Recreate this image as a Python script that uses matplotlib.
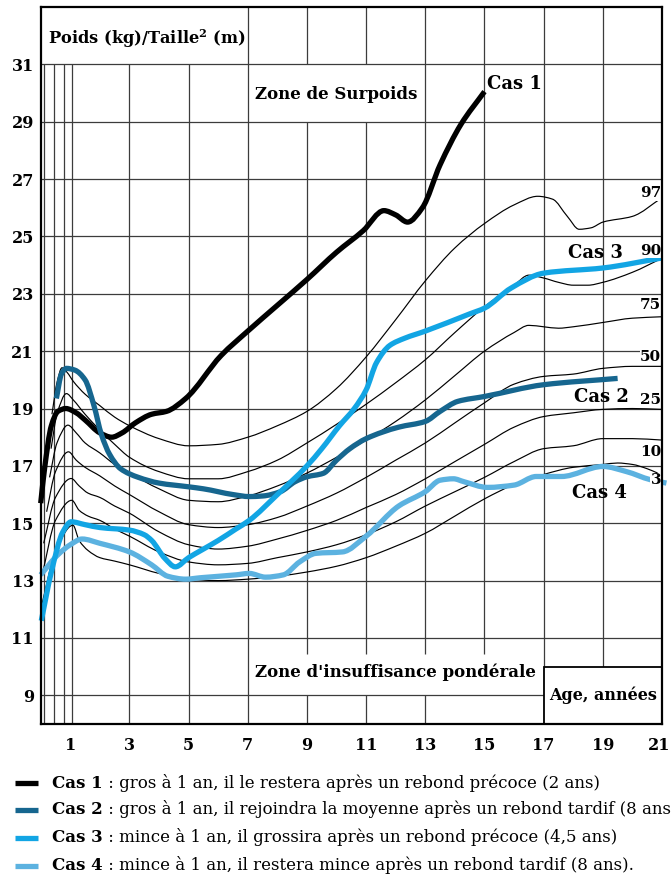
import matplotlib
matplotlib.use("Agg")
import matplotlib.pyplot as plt
import matplotlib.transforms as mtransforms
from matplotlib.lines import Line2D
from matplotlib.patches import Rectangle, PathPatch
from matplotlib.path import Path

plt.rcParams['font.family'] = ['DejaVu Serif']
plt.rcParams['mathtext.fontset'] = 'dejavuserif'

# ---------------- data ----------------
x_ticks = [1, 3, 5, 7, 9, 11, 13, 15, 17, 19, 21]
y_ticks = [9, 11, 13, 15, 17, 19, 21, 23, 25, 27, 29, 31]

p97_age = [0.38, 0.55, 0.72, 0.9, 1.1, 1.5, 2, 2.5, 3, 4, 5, 6, 7, 8, 9, 10, 11, 12, 13, 14, 15, 16, 16.8, 17.3, 17.8, 18.2, 18.6, 19, 20, 21]
p97_bmi = [18.8, 19.9, 20.42, 20.25, 19.95, 19.5, 19.1, 18.7, 18.4, 17.95, 17.7, 17.75, 18.0, 18.4, 18.9, 19.7, 20.8, 22.1, 23.45, 24.6, 25.45, 26.1, 26.4, 26.3, 25.7, 25.25, 25.3, 25.5, 25.7, 26.35]

p90_age = [0.35, 0.55, 0.87, 1.1, 1.5, 2, 2.5, 3, 4, 5, 6, 7, 8, 9, 10, 11, 12, 13, 14, 15, 16, 16.5, 17, 17.5, 18, 18.5, 19, 20, 21]
p90_bmi = [17.6, 18.8, 19.52, 19.3, 18.8, 18.25, 17.75, 17.3, 16.8, 16.55, 16.55, 16.8, 17.2, 17.8, 18.45, 19.15, 19.9, 20.7, 21.65, 22.55, 23.3, 23.65, 23.55, 23.4, 23.3, 23.3, 23.4, 23.75, 24.24]

p75_age = [0.3, 0.55, 0.92, 1.2, 1.5, 2, 2.5, 3, 4, 5, 6, 7, 8, 9, 10, 11, 12, 13, 14, 15, 16, 16.5, 17, 17.5, 18, 19, 20, 21]
p75_bmi = [16.6, 17.8, 18.42, 18.15, 17.8, 17.45, 17.05, 16.75, 16.2, 15.8, 15.75, 15.95, 16.3, 16.75, 17.3, 17.9, 18.55, 19.3, 20.15, 21.0, 21.65, 21.9, 21.85, 21.8, 21.85, 22.0, 22.15, 22.2]

p50_age = [0.2, 0.5, 0.94, 1.2, 1.5, 2, 2.5, 3, 4, 5, 6, 7, 8, 9, 10, 11, 12, 13, 14, 15, 16, 17, 18, 19, 20, 21]
p50_bmi = [15.4, 16.8, 17.49, 17.2, 16.95, 16.65, 16.3, 16.0, 15.4, 14.95, 14.85, 14.95, 15.2, 15.6, 16.05, 16.6, 17.2, 17.8, 18.5, 19.2, 19.85, 20.12, 20.2, 20.4, 20.47, 20.47]

p25_age = [0.1, 0.5, 1.03, 1.3, 1.6, 2, 2.5, 3, 4, 5, 6, 7, 8, 9, 10, 11, 12, 13, 14, 15, 16, 17, 18, 19, 20, 21]
p25_bmi = [14.3, 15.9, 16.56, 16.3, 16.05, 15.9, 15.6, 15.35, 14.7, 14.25, 14.1, 14.2, 14.45, 14.75, 15.1, 15.55, 16.0, 16.55, 17.15, 17.75, 18.35, 18.72, 18.85, 18.97, 19.0, 18.97]

p10_age = [0.05, 0.5, 1.05, 1.3, 1.6, 2, 2.5, 3, 4, 5, 6, 7, 8, 9, 10, 11, 12, 13, 14, 15, 16, 17, 18, 19, 20, 21]
p10_bmi = [13.2, 15.1, 15.8, 15.45, 15.25, 15.1, 14.8, 14.55, 14.0, 13.65, 13.55, 13.6, 13.8, 14.0, 14.25, 14.6, 15.05, 15.6, 16.1, 16.6, 17.15, 17.6, 17.7, 17.95, 17.95, 17.9]

p3_age = [0.0, 0.5, 1.09, 1.3, 1.6, 2, 2.5, 3, 4, 5, 6, 7, 8, 9, 10, 11, 12, 13, 14, 15, 16, 17, 18, 19, 19.5, 20, 20.5, 20.85]
p3_bmi = [12.0, 14.0, 14.93, 14.4, 14.05, 13.8, 13.68, 13.55, 13.25, 13.05, 13.0, 13.05, 13.15, 13.3, 13.5, 13.8, 14.2, 14.65, 15.25, 15.85, 16.35, 16.7, 16.95, 17.05, 17.1, 17.05, 16.9, 16.75]

pct_labels = ["97", "90", "75", "50", "25", "10", "3"]
pct_label_y = [26.5, 24.5, 22.6, 20.78, 19.28, 17.47, 16.5]

cas1_age = [0.0, 0.13, 0.36, 0.58, 0.85, 1.2, 1.5, 2.0, 2.4, 2.75, 3.2, 3.75, 4.25, 4.9, 6.1, 7, 8, 9, 10, 10.9, 11.6, 12.0, 12.4, 12.9, 13.5, 14.2, 15.0]
cas1_bmi = [15.7, 16.9, 18.4, 18.9, 19.0, 18.85, 18.6, 18.15, 18.0, 18.15, 18.5, 18.8, 18.9, 19.35, 20.85, 21.7, 22.6, 23.5, 24.45, 25.2, 25.9, 25.75, 25.5, 26.0, 27.5, 28.9, 30.05]

cas2_age = [0.53, 0.7, 0.87, 1.15, 1.5, 1.8, 2.05, 2.33, 2.7, 3.3, 4.0, 5.0, 5.5, 6.5, 7.05, 7.5, 8.1, 8.6, 9.0, 9.55, 10.0, 10.45, 11.0, 12.1, 13.0, 13.5, 14.1, 15.0, 17.0, 19.5]
cas2_bmi = [19.35, 20.2, 20.4, 20.34, 20.0, 19.1, 18.1, 17.4, 16.9, 16.6, 16.4, 16.27, 16.2, 16.0, 15.93, 15.95, 16.1, 16.45, 16.62, 16.74, 17.2, 17.6, 17.95, 18.35, 18.55, 18.9, 19.25, 19.42, 19.83, 20.05]

cas3_age = [0.02, 0.36, 0.75, 1.03, 1.5, 2.0, 3.0, 3.5, 3.75, 4.2, 4.55, 5.0, 5.45, 6.0, 6.6, 7.05, 8.0, 9.0, 9.5, 10.1, 10.6, 11.0, 11.35, 11.8, 12.3, 13.0, 14.5, 15.0, 15.9, 17.0, 19.0, 21.0]
cas3_bmi = [11.6, 13.3, 14.7, 15.05, 14.95, 14.85, 14.76, 14.6, 14.4, 13.77, 13.48, 13.8, 14.07, 14.4, 14.8, 15.1, 16.0, 17.0, 17.6, 18.4, 19.0, 19.65, 20.6, 21.2, 21.45, 21.7, 22.3, 22.5, 23.2, 23.72, 23.9, 24.25]

cas4_age = [0.0, 0.58, 1.0, 1.4, 2.0, 3.0, 3.75, 4.3, 4.9, 5.4, 6.6, 7.05, 7.6, 8.2, 8.75, 9.3, 10.2, 11.0, 12.1, 13.0, 13.5, 13.95, 14.3, 15.1, 16.0, 16.75, 17.6, 19.0, 19.8, 20.6, 21.15]
cas4_bmi = [13.2, 13.9, 14.25, 14.45, 14.3, 14.0, 13.55, 13.15, 13.05, 13.1, 13.2, 13.25, 13.12, 13.2, 13.65, 13.95, 14.0, 14.55, 15.6, 16.1, 16.5, 16.55, 16.45, 16.25, 16.33, 16.63, 16.63, 16.98, 16.8, 16.52, 16.4]

cas_names = ["Cas 1", "Cas 2", "Cas 3", "Cas 4"]
cas_colors = ["#000000", "#16668f", "#12a5e4", "#5cb2e0"]
cas_label_pos = [(15.1, 30.3), (18.95, 19.39), (18.74, 24.42), (18.88, 16.06)]
legend_texts = [
    " : gros à 1 an, il le restera après un rebond précoce (2 ans)",
    " : gros à 1 an, il rejoindra la moyenne après un rebond tardif (8 ans)",
    " : mince à 1 an, il grossira après un rebond précoce (4,5 ans)",
    " : mince à 1 an, il restera mince après un rebond tardif (8 ans).",
]


def smooth_path(xs, ys):
    """Cubic Bezier path through the points (monotone Hermite tangents)."""
    n = len(xs)
    h = [xs[k + 1] - xs[k] for k in range(n - 1)]
    d = [(ys[k + 1] - ys[k]) / h[k] for k in range(n - 1)]
    m = [0.0] * n
    m[0], m[-1] = d[0], d[-1]
    for k in range(1, n - 1):
        if d[k - 1] * d[k] <= 0:
            m[k] = 0.0
        else:
            w1 = 2 * h[k] + h[k - 1]
            w2 = h[k] + 2 * h[k - 1]
            m[k] = (w1 + w2) / (w1 / d[k - 1] + w2 / d[k])
    verts = [(xs[0], ys[0])]
    codes = [Path.MOVETO]
    for k in range(n - 1):
        verts += [(xs[k] + h[k] / 3, ys[k] + m[k] * h[k] / 3),
                  (xs[k + 1] - h[k] / 3, ys[k + 1] - m[k + 1] * h[k] / 3),
                  (xs[k + 1], ys[k + 1])]
        codes += [Path.CURVE4] * 3
    return Path(verts, codes)


# ---------------- figure ----------------
W, H = 671, 883
fig = plt.figure(figsize=(W / 100, H / 100), dpi=100)
ax = fig.add_axes([40.7 / W, 1 - 724 / H, (662 - 40.7) / W, (724 - 7) / H])
ax.set_xlim(0, 21)
ax.set_ylim(8, 33)

gc = "#3c3c3c"
glw = 0.9
for xv in [0.12, 0.45, 0.78, 1.05, 3, 5]:
    ax.vlines(xv, 8, 31, color=gc, lw=glw, zorder=1)
ax.vlines(7, 8, 33, color=gc, lw=glw, zorder=1)
for xv in [9, 11]:
    ax.vlines(xv, 8, 9, color=gc, lw=glw, zorder=1)
    ax.vlines(xv, 10.45, 29, color=gc, lw=glw, zorder=1)
    ax.vlines(xv, 31, 33, color=gc, lw=glw, zorder=1)
ax.vlines(13, 8, 9, color=gc, lw=glw, zorder=1)
ax.vlines(13, 10.45, 33, color=gc, lw=glw, zorder=1)
ax.vlines(15, 10.45, 33, color=gc, lw=glw, zorder=1)
ax.vlines(17, 8, 33, color=gc, lw=glw, zorder=1)
ax.vlines(19, 10, 33, color=gc, lw=glw, zorder=1)
ax.hlines(9, 0, 17, color=gc, lw=glw, zorder=1)
for yv in y_ticks[1:]:
    ax.hlines(yv, 0, 21, color=gc, lw=glw, zorder=1)

# percentile curves
pcts = [(p97_age, p97_bmi), (p90_age, p90_bmi), (p75_age, p75_bmi), (p50_age, p50_bmi),
        (p25_age, p25_bmi), (p10_age, p10_bmi), (p3_age, p3_bmi)]
for a, b in pcts:
    ax.add_patch(PathPatch(smooth_path(a, b), fill=False, edgecolor="black", lw=0.85, zorder=2))

tfont = dict(family='DejaVu Serif', weight='bold')
for lab, yv in zip(pct_labels, pct_label_y):
    ax.text(20.97, yv, lab, ha='right', va='center', fontsize=11, zorder=5,
            bbox=dict(facecolor='white', edgecolor='none', pad=0.3), **tfont)

# case curves
cases = [(cas1_age, cas1_bmi, cas_colors[0]), (cas2_age, cas2_bmi, cas_colors[1]),
         (cas4_age, cas4_bmi, cas_colors[3]), (cas3_age, cas3_bmi, cas_colors[2])]
for a, b, c in cases:
    ax.add_patch(PathPatch(smooth_path(a, b), fill=False, edgecolor=c, lw=3.8, zorder=4,
                           capstyle='butt', joinstyle='round', clip_on=False))

for name, (xx, yy) in zip(cas_names, cas_label_pos):
    ha = 'left' if name == "Cas 1" else 'center'
    ax.text(xx, yy, name, ha=ha, va='center', fontsize=13, zorder=6, **tfont)

# zones / boxes
ax.text(0.25, 31.9, "Poids (kg)/Taille$^{\\mathbf{2}}$ (m)", ha='left', va='center', fontsize=11.7, **tfont)
ax.text(10, 29.95, "Zone de Surpoids", ha='center', va='center', fontsize=12, **tfont)
ax.text(12.0, 9.8, "Zone d'insuffisance pondérale", ha='center', va='center', fontsize=12, **tfont)
ax.add_patch(Rectangle((17, 8), 4, 2, facecolor='white', edgecolor='black', lw=1.3, zorder=3))
ax.text(19, 9.0, "Age, années", ha='center', va='center', fontsize=11.5, zorder=6, **tfont)

# axes styling
ax.set_xticks(x_ticks)
ax.set_yticks(y_ticks)
ax.set_xticklabels([str(v) for v in x_ticks], **tfont, fontsize=11.5)
ax.set_yticklabels([str(v) for v in y_ticks], **tfont, fontsize=11.5)
ax.tick_params(axis='both', length=0)
ax.tick_params(axis='y', pad=5)
ax.tick_params(axis='x', pad=9)
last = ax.get_xticklabels()[-1]
last.set_horizontalalignment('right')
last.set_transform(last.get_transform() + mtransforms.ScaledTranslation(8 / 100, 0, fig.dpi_scale_trans))
for s in ax.spines.values():
    s.set_linewidth(1.6)
    s.set_zorder(7)

# legend
leg_y = [783, 810, 838, 866]
for i in range(4):
    yf = 1 - leg_y[i] / H
    fig.add_artist(Line2D([15 / W, 38 / W], [yf, yf], lw=3.8, color=cas_colors[i], solid_capstyle='butt'))
    t = fig.text(52 / W, yf, cas_names[i], ha='left', va='center', fontsize=12,
                 family='DejaVu Serif', weight='bold')
    ax.annotate(legend_texts[i], xy=(1, 0), xycoords=t, ha='left', va='bottom',
                fontsize=12, family='DejaVu Serif', annotation_clip=False)

fig.savefig("out.png", dpi=100)
